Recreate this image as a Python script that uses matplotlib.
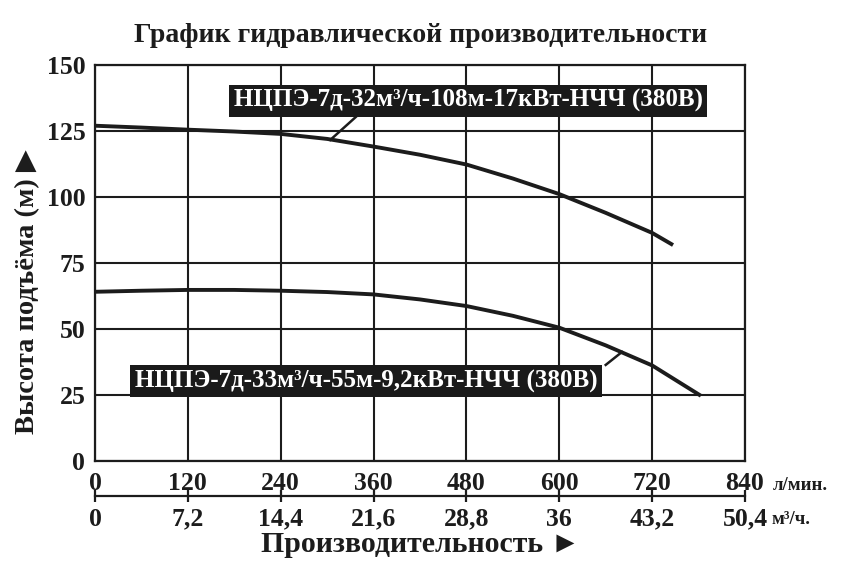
import matplotlib
matplotlib.use("Agg")
import matplotlib.pyplot as plt
from matplotlib.ticker import FixedLocator, FixedFormatter

plt.rcParams['font.family'] = ['Liberation Serif', 'DejaVu Sans']
plt.rcParams['font.weight'] = 'bold'

# ---- data ----
q_upper = [0, 60, 120, 180, 240, 300, 360, 420, 480, 540, 600, 660, 720, 747]
h_upper = [127.0, 126.3, 125.5, 124.8, 123.9, 122.0, 119.1, 116.0, 112.3, 107.0, 101.1, 94.0, 86.4, 81.8]
q_lower = [0, 60, 120, 180, 240, 300, 360, 420, 480, 540, 600, 660, 720, 783]
h_lower = [64.1, 64.5, 64.8, 64.8, 64.5, 64.0, 63.1, 61.2, 58.7, 55.0, 50.5, 43.8, 36.2, 24.7]
label_upper = "НЦПЭ-7д-32м³/ч-108м-17кВт-НЧЧ (380В)"
label_lower = "НЦПЭ-7д-33м³/ч-55м-9,2кВт-НЧЧ (380В)"
x_ticks_lpm = [0, 120, 240, 360, 480, 600, 720, 840]
x_ticks_m3h = [0, 7.2, 14.4, 21.6, 28.8, 36, 43.2, 50.4]
x_ticks_m3h_labels = ["0", "7,2", "14,4", "21,6", "28,8", "36", "43,2", "50,4"]
y_ticks = [0, 25, 50, 75, 100, 125, 150]
title = "График гидравлической производительности"
xlabel = "Производительность ►"
ylabel = "Высота подъёма (м) ▶"

W, H = 841, 583
fig = plt.figure(figsize=(W / 100, H / 100), dpi=100)
L, R, T, B = 95, 745, 65, 461
ax = fig.add_axes([L / W, 1 - B / H, (R - L) / W, (B - T) / H])
ax.set_xlim(0, 840)
ax.set_ylim(0, 150)

ink = '#1c1c1c'
ax.set_xticks(x_ticks_lpm)
ax.set_yticks(y_ticks)
ax.grid(True, color=ink, linewidth=1.5)
ax.set_axisbelow(True)
for s in ax.spines.values():
    s.set_color(ink)
    s.set_linewidth(1.6)
ax.tick_params(axis='both', length=0, labelsize=18.5, colors=ink)
ax.tick_params(axis='x', pad=8)
ax.tick_params(axis='y', pad=7)

ax.plot(q_upper, h_upper, color=ink, linewidth=2.8, solid_capstyle='butt', zorder=3)
ax.plot(q_lower, h_lower, color=ink, linewidth=2.8, solid_capstyle='butt', zorder=3)

# leaders
ax.plot([337, 304], [130.3, 121.6], color=ink, linewidth=1.8, zorder=3)
ax.plot([660, 681], [36.4, 41.3], color=ink, linewidth=1.8, zorder=3)

box = dict(boxstyle='square,pad=0.18', facecolor='#1a1a1a', edgecolor='none')
ax.text(468 * 840 / 650 - 95 * 840 / 650, 136.4, label_upper, color='white', fontsize=18, ha='center', va='center',
        bbox=box, zorder=4)
ax.text(366 * 840 / 650 - 95 * 840 / 650, 30.3, label_lower, color='white', fontsize=18, ha='center', va='center',
        bbox=box, zorder=4)

# secondary axis (m3/h)
sec = ax.secondary_xaxis(-(496 - B) / (B - T), functions=(lambda x: x * 0.06, lambda x: x / 0.06))
sec.xaxis.set_major_locator(FixedLocator(x_ticks_m3h))
sec.xaxis.set_major_formatter(FixedFormatter(x_ticks_m3h_labels))
sec.spines['bottom'].set_linewidth(1.6)
sec.spines['bottom'].set_color(ink)
sec.tick_params(axis='x', direction='inout', length=9, width=1.6, colors=ink, labelsize=18.5, pad=4)

fig.text(0.5, 1 - 35 / H, title, ha='center', va='center', fontsize=20, color=ink)
fig.text(421 / W, 1 - 545 / H, xlabel, ha='center', va='center', fontsize=21.5, color=ink,
         family=['Liberation Serif', 'DejaVu Sans'])
fig.text(28 / W, 1 - 292 / H, ylabel, ha='center', va='center', rotation=90, fontsize=20.5, color=ink,
         family=['Liberation Serif', 'DejaVu Sans'])
fig.text(773 / W, 1 - 485 / H, "л/мин.", ha='left', va='center', fontsize=13.5, color=ink)
fig.text(772 / W, 1 - 519 / H, "м³/ч.", ha='left', va='center', fontsize=13.5, color=ink)

fig.savefig("out.png", dpi=100, facecolor='white')
